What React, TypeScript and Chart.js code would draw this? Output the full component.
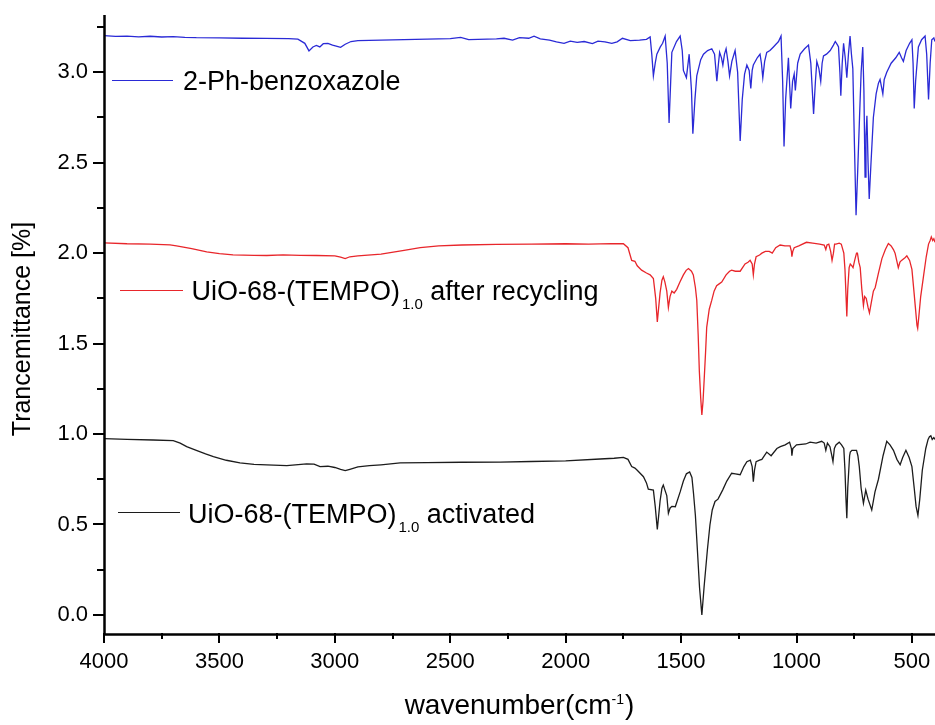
import React, { useEffect, useRef } from 'react';
import { Chart, registerables } from 'chart.js';

Chart.register(...registerables);

// ---------- data ----------
const blueWn = [4000,3950,3900,3850,3800,3750,3700,3650,3600,3500,3400,3300,3200,3160,3130,3112,3095,3080,3065,3050,3030,3010,2990,2975,2955,2930,2900,2800,2700,2600,2500,2455,2420,2300,2267,2230,2200,2160,2137,2110,2070,2040,2007,1980,1950,1920,1884,1860,1830,1800,1777,1754,1720,1680,1650,1634,1627,1620,1612,1605,1590,1580,1569,1560,1552,1545,1540,1520,1504,1495,1490,1477,1465,1455,1449,1440,1432,1415,1403,1385,1367,1355,1345,1338,1333,1325,1319,1312,1305,1297,1290,1280,1266,1255,1244,1235,1225,1215,1205,1198,1192,1187,1170,1158,1152,1146,1138,1129,1115,1100,1085,1078,1067,1060,1054,1047,1035,1025,1017,1010,1005,995,984,965,948,938,926,918,912,903,895,889,883,870,854,840,832,822,818,812,808,802,796,789,782,775,768,762,756,749,742,735,727,720,713,708,703,699,695,690,685,678,667,655,645,638,632,626,620,609,590,570,555,545,537,525,510,500,495,490,484,472,458,443,436,428,421,414,405,400];
const blueT = [3.203,3.198,3.2,3.196,3.199,3.195,3.197,3.193,3.191,3.19,3.188,3.187,3.186,3.183,3.16,3.118,3.14,3.148,3.14,3.158,3.16,3.15,3.143,3.138,3.155,3.17,3.175,3.178,3.18,3.183,3.186,3.193,3.18,3.185,3.188,3.178,3.192,3.188,3.2,3.185,3.178,3.168,3.16,3.172,3.165,3.17,3.158,3.172,3.168,3.16,3.168,3.188,3.175,3.178,3.182,3.195,3.1,2.98,3.05,3.1,3.14,3.16,3.2,3.05,2.72,2.95,3.11,3.17,3.2,3.12,3.01,2.97,3.1,2.9,2.66,2.85,2.98,3.07,3.1,3.12,3.13,3.1,2.95,3.05,3.11,3.08,3.04,3.1,3.13,3.06,2.98,3.06,3.12,3.0,2.62,2.85,2.99,3.04,3.01,2.91,3.01,3.04,3.08,3.1,3.05,2.97,3.06,3.11,3.12,3.14,3.16,3.17,3.2,2.95,2.59,2.85,3.08,2.8,2.95,2.99,2.9,3.05,3.1,3.13,3.15,3.05,2.77,2.95,3.06,3.02,2.95,3.05,3.09,3.1,3.12,3.15,3.17,3.15,3.14,3.0,2.87,3.05,3.16,3.08,2.97,3.1,3.2,3.1,3.02,2.6,2.21,2.45,2.75,3.0,3.14,2.9,2.42,2.65,2.76,2.5,2.3,2.48,2.75,2.88,2.94,2.96,2.92,2.88,2.96,3.0,3.05,3.08,3.11,3.08,3.06,3.12,3.16,3.18,3.05,2.8,2.95,3.14,3.18,3.2,3.1,2.85,3.05,3.18,3.19,3.17];

const redWn = [4000,3900,3800,3714,3686,3620,3555,3500,3441,3350,3295,3224,3150,3078,3000,2975,2955,2935,2900,2800,2700,2630,2550,2450,2300,2150,2000,1900,1800,1750,1730,1714,1700,1690,1671,1650,1634,1620,1610,1603,1597,1591,1583,1577,1570,1562,1555,1548,1540,1530,1519,1505,1490,1478,1468,1455,1447,1438,1432,1426,1421,1415,1410,1405,1400,1394,1389,1378,1367,1357,1346,1335,1324,1305,1290,1281,1265,1244,1223,1210,1201,1192,1187,1182,1175,1160,1150,1135,1118,1105,1090,1071,1050,1028,1022,1020,1016,1010,990,957,930,900,880,873,868,860,852,846,840,835,829,815,806,795,790,785,782,778,772,767,760,755,748,740,736,730,724,717,710,705,698,690,684,677,667,659,645,630,615,602,590,580,573,566,559,552,545,530,522,510,500,492,485,478,475,470,462,450,438,428,421,416,410,405,400];
const redT = [2.057,2.052,2.05,2.046,2.04,2.025,2.007,1.997,1.99,1.988,1.987,1.99,1.988,1.987,1.985,1.978,1.97,1.98,1.985,1.995,2.015,2.03,2.04,2.045,2.048,2.05,2.052,2.05,2.053,2.052,2.03,1.96,1.955,1.93,1.906,1.89,1.88,1.86,1.75,1.62,1.7,1.78,1.85,1.87,1.84,1.79,1.7,1.76,1.79,1.78,1.8,1.84,1.88,1.905,1.915,1.9,1.88,1.81,1.74,1.55,1.35,1.2,1.105,1.18,1.3,1.45,1.59,1.69,1.74,1.79,1.82,1.83,1.84,1.88,1.9,1.906,1.9,1.9,1.94,1.95,1.96,1.94,1.88,1.94,1.98,1.99,2.0,2.01,2.01,2.0,2.03,2.045,2.04,2.04,2.01,1.98,2.01,2.03,2.04,2.06,2.055,2.05,2.045,2.02,2.045,2.05,2.01,1.96,2.0,2.05,2.05,2.055,2.05,2.0,1.91,1.75,1.65,1.8,1.92,1.94,1.93,1.92,1.96,2.0,2.0,1.95,1.92,1.8,1.71,1.76,1.75,1.7,1.67,1.72,1.79,1.81,1.89,1.97,2.02,2.053,2.04,2.02,2.0,1.96,1.92,1.95,1.96,1.975,1.985,1.96,1.91,1.8,1.7,1.6,1.584,1.65,1.76,1.87,1.98,2.05,2.07,2.09,2.07,2.08,2.06];

const blackWn = [4000,3900,3787,3700,3670,3642,3600,3560,3526,3470,3411,3350,3295,3208,3122,3090,3064,3030,3000,2975,2955,2935,2900,2850,2800,2717,2600,2450,2284,2150,2000,1851,1790,1750,1730,1714,1700,1690,1663,1650,1642,1620,1612,1603,1597,1591,1583,1577,1570,1562,1555,1548,1540,1525,1504,1490,1477,1463,1453,1446,1438,1431,1420,1410,1405,1400,1386,1375,1365,1353,1340,1320,1302,1281,1265,1244,1228,1215,1200,1192,1187,1182,1175,1160,1150,1129,1110,1085,1070,1049,1030,1022,1020,1016,1000,960,941,915,891,880,873,866,855,847,842,836,829,815,805,795,790,786,782,778,770,767,760,750,740,734,728,720,710,700,690,674,660,645,625,609,595,580,565,551,540,526,512,500,490,482,474,466,455,440,430,424,418,412,405,400];
const blackT = [0.975,0.97,0.967,0.963,0.95,0.93,0.91,0.89,0.875,0.855,0.84,0.832,0.829,0.825,0.835,0.834,0.82,0.822,0.815,0.805,0.798,0.805,0.818,0.825,0.83,0.84,0.842,0.844,0.845,0.848,0.852,0.862,0.866,0.871,0.86,0.82,0.812,0.8,0.764,0.73,0.695,0.69,0.6,0.473,0.55,0.63,0.7,0.718,0.69,0.66,0.562,0.59,0.6,0.598,0.68,0.74,0.78,0.79,0.76,0.67,0.55,0.396,0.15,0.0,0.08,0.16,0.36,0.497,0.58,0.627,0.64,0.69,0.74,0.783,0.78,0.775,0.82,0.847,0.856,0.82,0.737,0.8,0.847,0.856,0.86,0.9,0.88,0.92,0.93,0.94,0.955,0.92,0.88,0.92,0.94,0.945,0.955,0.95,0.96,0.95,0.91,0.95,0.93,0.88,0.847,0.92,0.94,0.955,0.94,0.92,0.8,0.65,0.534,0.7,0.88,0.9,0.91,0.91,0.91,0.88,0.82,0.7,0.617,0.69,0.64,0.58,0.68,0.75,0.88,0.96,0.94,0.91,0.86,0.83,0.87,0.91,0.87,0.82,0.7,0.6,0.55,0.64,0.8,0.92,0.97,0.985,0.99,0.97,0.98,0.97];

const seriesNames = ['2-Ph-benzoxazole', 'UiO-68-(TEMPO)1.0 after recycling', 'UiO-68-(TEMPO)1.0 activated'];
const legendMain = ['2-Ph-benzoxazole', 'UiO-68-(TEMPO)', 'UiO-68-(TEMPO)'];
const legendSub = ['', '1.0', '1.0'];
const legendTail = ['', ' after recycling', ' activated'];

const xTickValues = [4000,3750,3500,3250,3000,2750,2500,2250,2000,1750,1500,1250,1000,750,500];
const yTickValues = [0,0.25,0.5,0.75,1.0,1.25,1.5,1.75,2.0,2.25,2.5,2.75,3.0,3.25];

const xTitle = 'wavenumber(cm';
const xTitleSup = '-1';
const xTitleEnd = ')';
const yTitle = 'Trancemittance [%]';

// ---------- styles ----------
const FONT = "'Liberation Sans', Arial, Helvetica, sans-serif";
const colors = ['#2a2ad6', '#e8262b', '#1c1c1c'];
// legend placement (pixels): line start, line end, line y, text x, text baseline
const legendPos = [
  { x0: 112, x1: 173, y: 80, tx: 183, by: 90 },
  { x0: 120, x1: 183, y: 290, tx: 191.5, by: 300 },
  { x0: 118, x1: 180, y: 512, tx: 188, by: 523 },
];

const isMajorX = (v: number) => v % 500 === 0;
const isMajorY = (v: number) => Math.abs(v * 2 - Math.round(v * 2)) < 1e-6;

export default function App() {
  const ref = useRef<HTMLCanvasElement>(null);

  useEffect(() => {
    const canvas = ref.current;
    if (!canvas) return;
    const toPts = (wn: number[], t: number[]) => wn.map((x, i) => ({ x, y: t[i] }));

    const decor = {
      id: 'decor',
      afterDraw(chart: any) {
        const { ctx, chartArea } = chart;
        const xs = chart.scales.x;
        const ys = chart.scales.y;
        ctx.save();
        ctx.strokeStyle = '#000';
        ctx.lineWidth = 2;
        ctx.lineCap = 'butt';
        // ticks
        yTickValues.forEach((v) => {
          const py = Math.round(ys.getPixelForValue(v));
          const len = isMajorY(v) ? 11 : 7;
          ctx.beginPath();
          ctx.moveTo(chartArea.left, py);
          ctx.lineTo(chartArea.left - len, py);
          ctx.stroke();
        });
        xTickValues.forEach((v) => {
          const px = Math.round(xs.getPixelForValue(v));
          const len = isMajorX(v) ? 10 : 6;
          ctx.beginPath();
          ctx.moveTo(px, chartArea.bottom);
          ctx.lineTo(px, chartArea.bottom + len);
          ctx.stroke();
        });
        // axes lines
        ctx.lineWidth = 2.5;
        ctx.beginPath();
        ctx.moveTo(chartArea.left + 0.5, chartArea.top - 3);
        ctx.lineTo(chartArea.left + 0.5, chartArea.bottom + 1.5);
        ctx.lineTo(chartArea.right, chartArea.bottom + 1.5);
        ctx.stroke();

        ctx.fillStyle = '#000';
        // y title
        ctx.save();
        ctx.translate(23, 329);
        ctx.rotate(-Math.PI / 2);
        ctx.font = `25px ${FONT}`;
        ctx.textAlign = 'center';
        ctx.textBaseline = 'middle';
        ctx.fillText(yTitle, 0, 0);
        ctx.restore();

        // x title with superscript
        ctx.textBaseline = 'alphabetic';
        ctx.textAlign = 'left';
        ctx.font = `28px ${FONT}`;
        const w1 = ctx.measureText(xTitle).width;
        const w3 = ctx.measureText(xTitleEnd).width;
        ctx.font = `14px ${FONT}`;
        const w2 = ctx.measureText(xTitleSup).width;
        const total = w1 + w2 + w3 + 1;
        const cx = (chartArea.left + chartArea.right) / 2;
        let sx = cx - total / 2;
        const base = 714;
        ctx.font = `28px ${FONT}`;
        ctx.fillText(xTitle, sx, base);
        sx += w1;
        ctx.font = `14px ${FONT}`;
        ctx.fillText(xTitleSup, sx, base - 10);
        sx += w2 + 1;
        ctx.font = `28px ${FONT}`;
        ctx.fillText(xTitleEnd, sx, base);

        // legend
        legendPos.forEach((p, i) => {
          ctx.strokeStyle = colors[i];
          ctx.lineWidth = 1.2;
          ctx.beginPath();
          ctx.moveTo(p.x0, p.y + 0.5);
          ctx.lineTo(p.x1, p.y + 0.5);
          ctx.stroke();
          ctx.fillStyle = '#000';
          ctx.font = `27px ${FONT}`;
          let tx = p.tx;
          ctx.fillText(legendMain[i], tx, p.by);
          tx += ctx.measureText(legendMain[i]).width;
          if (legendSub[i]) {
            tx += 2;
            ctx.font = `15px ${FONT}`;
            ctx.fillText(legendSub[i], tx, p.by + 9);
            tx += ctx.measureText(legendSub[i]).width;
            ctx.font = `27px ${FONT}`;
            ctx.fillText(legendTail[i], tx, p.by);
          }
        });
        ctx.restore();
      },
    };

    const chart = new Chart(canvas, {
      type: 'line',
      data: {
        datasets: [
          { label: seriesNames[0], data: toPts(blueWn, blueT), borderColor: colors[0], borderWidth: 1.3, pointRadius: 0, tension: 0, fill: false },
          { label: seriesNames[1], data: toPts(redWn, redT), borderColor: colors[1], borderWidth: 1.3, pointRadius: 0, tension: 0, fill: false },
          { label: seriesNames[2], data: toPts(blackWn, blackT), borderColor: colors[2], borderWidth: 1.3, pointRadius: 0, tension: 0, fill: false },
        ],
      },
      options: {
        responsive: false,
        animation: false,
        events: [],
        layout: { padding: { top: 18, right: 0, left: 0, bottom: 0 } },
        plugins: { legend: { display: false }, tooltip: { enabled: false }, title: { display: false } },
        scales: {
          x: {
            type: 'linear',
            reverse: true,
            min: 400,
            max: 4000,
            grid: { display: false, drawTicks: false, drawOnChartArea: false },
            border: { display: false },
            afterBuildTicks: (scale: any) => {
              scale.ticks = xTickValues.map((v) => ({ value: v }));
            },
            afterFit: (scale: any) => {
              scale.height = 92;
              scale.paddingLeft = 0;
              scale.paddingRight = 0;
              scale.paddingTop = 0;
              scale.paddingBottom = 0;
            },
            ticks: {
              autoSkip: false,
              maxRotation: 0,
              minRotation: 0,
              padding: 16,
              color: '#000',
              font: { family: FONT, size: 22 },
              callback: (v: any) => (isMajorX(Number(v)) ? String(v) : ''),
            },
          },
          y: {
            type: 'linear',
            min: -0.1,
            max: 3.3,
            grid: { display: false, drawTicks: false, drawOnChartArea: false },
            border: { display: false },
            afterBuildTicks: (scale: any) => {
              scale.ticks = yTickValues.map((v) => ({ value: v }));
            },
            afterFit: (scale: any) => {
              scale.width = 104;
              scale.paddingLeft = 0;
              scale.paddingRight = 0;
              scale.paddingTop = 0;
              scale.paddingBottom = 0;
            },
            ticks: {
              autoSkip: false,
              padding: 16,
              color: '#000',
              font: { family: FONT, size: 22 },
              callback: (v: any) => (isMajorY(Number(v)) ? Number(v).toFixed(1) : ''),
            },
          },
        },
      },
      plugins: [decor],
    });
    return () => chart.destroy();
  }, []);

  return (
    <div style={{ position: 'absolute', left: 0, top: 0, width: 935, height: 725, background: '#fff' }}>
      <canvas ref={ref} width={935} height={725} style={{ display: 'block' }} />
    </div>
  );
}
